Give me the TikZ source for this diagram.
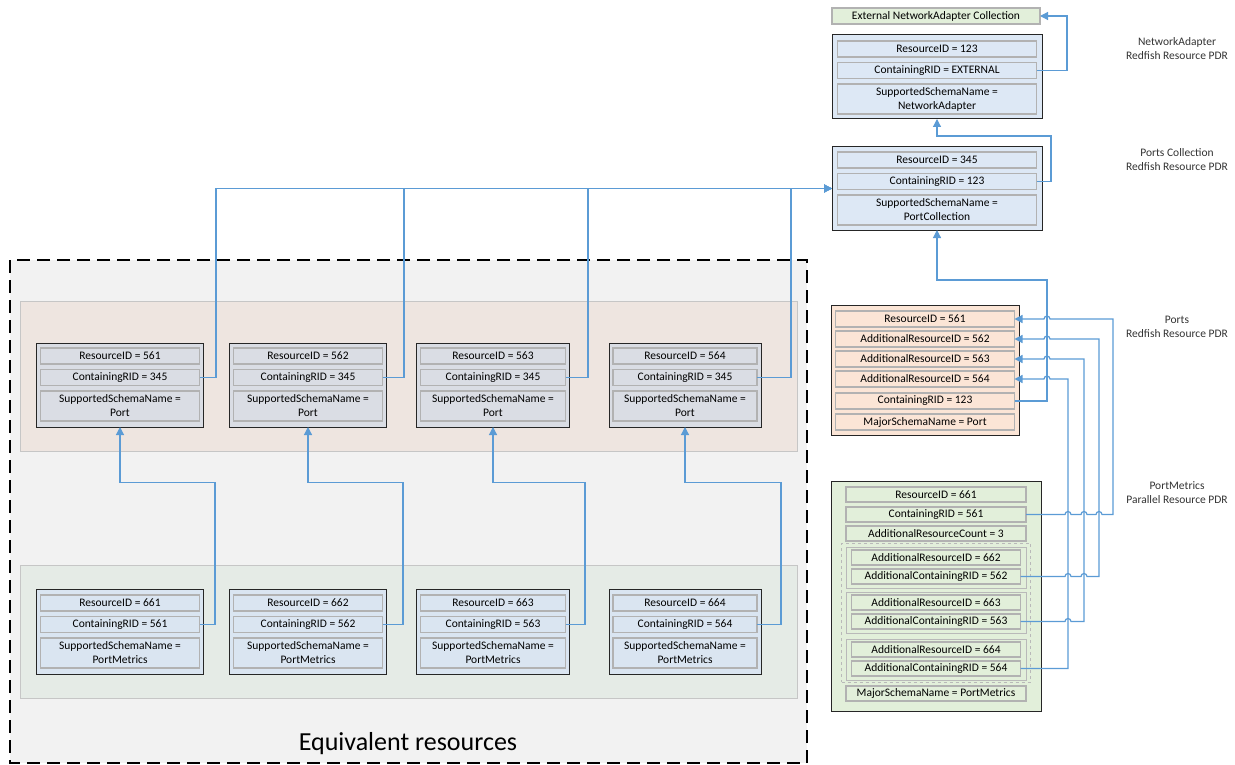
\documentclass[tikz,border=0pt]{standalone}
\usepackage{fontspec}
\setmainfont{Carlito}
\usetikzlibrary{arrows.meta, shapes, positioning, calc}

\definecolor{linkblue}{HTML}{5B9BD5}
\definecolor{portgray}{HTML}{DADDE4}
\definecolor{metricblue}{HTML}{DAE5F1}
\definecolor{pdrblue}{HTML}{DDE8F5}
\definecolor{portorange}{HTML}{FBE5D6}
\definecolor{metricgreen}{HTML}{E2EFDA}
\definecolor{bandpink}{HTML}{EEE5E0}
\definecolor{bandgreen}{HTML}{E5EBE6}
\definecolor{equivgray}{HTML}{F2F2F2}

\begin{document}
\begin{tikzpicture}[x=1pt,y=-1pt,font=\fontsize{11.5}{14}\selectfont,
  record/.style={draw=black!85,line width=1pt,inner sep=0pt,outer sep=0pt},
  field/.style={draw=gray!60,line width=1.2pt,inner sep=0pt,outer sep=0pt,minimum height=16pt,align=center},
  group box/.style={draw=gray!55,line width=1pt,inner sep=0pt,outer sep=0pt,fill=metricgreen},
  link/.style={draw=linkblue,line width=1.2pt,-{Triangle[width=8pt,length=8pt]}},
  pdr label/.style={align=center,text=black!80}]
  \useasboundingbox (0,0) rectangle (1235,765);

  % equivalent resources area
  \draw[fill=equivgray,line width=2.2pt,dash pattern=on 13pt off 7pt] (10,260) rectangle (807,763);
  \draw[fill=bandpink,draw=gray!45] (20,301) rectangle (797,451);
  \draw[fill=bandgreen,draw=gray!45] (20,565) rectangle (797,698);
  \node (equiv) at (408,744) {\fontsize{26}{30}\selectfont Equivalent resources};

  % network adapter
  \node[field,fill=metricgreen,minimum width=208pt] (extcol) at (936,16) {External NetworkAdapter Collection};
  \node[record,fill=pdrblue,minimum width=210pt,minimum height=84pt] (na) at (937,77) {};
  \node[field,fill=pdrblue,minimum width=199pt,below=6pt of na.north] (naid) {ResourceID = 123};
  \node[field,fill=pdrblue,minimum width=199pt,below=5.5pt of naid] (narid) {ContainingRID = EXTERNAL};
  \node[field,fill=pdrblue,minimum width=199pt,minimum height=30pt,below=5.5pt of narid] (naschema) {SupportedSchemaName =\\NetworkAdapter};

  % ports collection
  \node[record,fill=pdrblue,minimum width=210pt,minimum height=83pt] (pcol) at (937,188.5) {};
  \node[field,fill=pdrblue,minimum width=199pt,below=5pt of pcol.north] (pcolid) {ResourceID = 345};
  \node[field,fill=pdrblue,minimum width=199pt,below=5.5pt of pcolid] (pcolrid) {ContainingRID = 123};
  \node[field,fill=pdrblue,minimum width=199pt,minimum height=30pt,below=5.5pt of pcolrid] (pcolschema) {SupportedSchemaName =\\PortCollection};

  % ports
  \node[record,fill=portorange,minimum width=188pt,minimum height=130pt] (ports) at (925,370) {};
  \node[field,fill=portorange,minimum width=179pt,below=6pt of ports.north] (portsid) {ResourceID = 561};
  \node[field,fill=portorange,minimum width=179pt,below=4pt of portsid] (portsadd1) {AdditionalResourceID = 562};
  \node[field,fill=portorange,minimum width=179pt,below=4pt of portsadd1] (portsadd2) {AdditionalResourceID = 563};
  \node[field,fill=portorange,minimum width=179pt,below=4pt of portsadd2] (portsadd3) {AdditionalResourceID = 564};
  \node[field,fill=portorange,minimum width=179pt,below=6pt of portsadd3] (portsrid) {ContainingRID = 123};
  \node[field,fill=portorange,minimum width=179pt,below=5pt of portsrid] (portsmajor) {MajorSchemaName = Port};

  % port metrics
  \node[record,fill=metricgreen,minimum width=210pt,minimum height=230pt] (pm) at (936,596) {};
  \node[field,fill=metricgreen,minimum width=180pt,minimum height=15pt,below=6pt of pm.north] (pmid) {ResourceID = 661};
  \node[field,fill=metricgreen,minimum width=180pt,minimum height=15pt,below=5pt of pmid] (pmrid) {ContainingRID = 561};
  \node[field,fill=metricgreen,minimum width=180pt,minimum height=15pt,below=4pt of pmrid] (pmcount) {AdditionalResourceCount = 3};
  \node[group box,dashed,minimum width=189pt,minimum height=139pt,below=2pt of pmcount] (pmgroup) {};
  \node[group box,minimum width=180pt,minimum height=41pt,below=4pt of pmgroup.north] (pmset1) {};
  \node[group box,minimum width=180pt,minimum height=41pt,below=4pt of pmset1] (pmset2) {};
  \node[group box,minimum width=180pt,minimum height=41pt,below=6pt of pmset2] (pmset3) {};
  \foreach \k/\ra/\rb in {1/662/562, 2/663/563, 3/664/564} {
    \node[field,fill=metricgreen,minimum width=169pt,minimum height=15pt,below=3pt of pmset\k.north] (pmaddid\k) {AdditionalResourceID = \ra};
    \node[field,fill=metricgreen,minimum width=169pt,minimum height=15pt,below=4pt of pmaddid\k] (pmaddrid\k) {AdditionalContainingRID = \rb};
  }
  \node[field,fill=metricgreen,minimum width=180pt,minimum height=15pt,below=4pt of pmgroup] (pmmajor) {MajorSchemaName = PortMetrics};

  \node[pdr label] (nalabel) at (1177,49) {NetworkAdapter\\Redfish Resource PDR};
  \node[pdr label] (pcollabel) at (1177,160) {Ports Collection\\Redfish Resource PDR};
  \node[pdr label] (portslabel) at (1177,327) {Ports\\Redfish Resource PDR};
  \node[pdr label] (pmlabel) at (1177,493) {PortMetrics\\Parallel Resource PDR};

  % equivalent ports and port metrics
  \foreach \i/\x/\w/\ra/\rb/\dt/\db in {1/120/167/561/661/16.5/15.5, 2/308/157/562/662/21.5/20.5, 3/493/153/563/663/22.5/19.5, 4/685/152/564/664/34/24} {
    \node[record,fill=portgray,minimum width=\w pt,minimum height=84pt] (port\i) at (\x,385) {};
    \node[field,fill=portgray,minimum width={(\w-8)*1pt},below=5pt of port\i.north] (portid\i) {ResourceID = \ra};
    \node[field,fill=portgray,minimum width={(\w-8)*1pt},below=5.5pt of portid\i] (portrid\i) {ContainingRID = 345};
    \node[field,fill=portgray,minimum width={(\w-8)*1pt},minimum height=30pt,below=5.5pt of portrid\i] (portschema\i) {SupportedSchemaName =\\Port};
    \node[record,fill=metricblue,minimum width=\w pt,minimum height=85pt] (metric\i) at (\x,631.5) {};
    \node[field,fill=metricblue,minimum width={(\w-8)*1pt},below=6pt of metric\i.north] (metricid\i) {ResourceID = \rb};
    \node[field,fill=metricblue,minimum width={(\w-8)*1pt},below=5.5pt of metricid\i] (metricrid\i) {ContainingRID = \ra};
    \node[field,fill=metricblue,minimum width={(\w-8)*1pt},minimum height=30pt,below=5.5pt of metricrid\i] (metricschema\i) {SupportedSchemaName =\\PortMetrics};
    \draw[link] (portrid\i.east) -- ++(\dt,0) |- (pcol.west);
    \draw[link] (metricrid\i.east) -- ++(\db,0) -- ++(0,-142) -| (port\i.south);
  }

  % containment links
  \coordinate (narail) at (1067,0);
  \coordinate (pcolrail) at (1051,136);
  \coordinate (portsrail) at (1047,280);
  \coordinate (bus1) at (1113,0);
  \coordinate (bus2) at (1099,0);
  \coordinate (bus3) at (1084,0);
  \coordinate (bus4) at (1068,0);
  \draw[link] (narid.east) -- (narail |- narid.east) |- (extcol.east);
  \draw[link] (pcolrid.east) -| (pcolrail) -| (na.south);
  \draw[link] (portsrid.east) -| (portsrail) -| (pcol.south);
  \draw[link] (pmrid.east) -- ($(bus4 |- pmrid.east)+(-3,0)$) arc[start angle=180,end angle=0,radius=3pt]
    -- ($(bus3 |- pmrid.east)+(-3,0)$) arc[start angle=180,end angle=0,radius=3pt]
    -- ($(bus2 |- pmrid.east)+(-3,0)$) arc[start angle=180,end angle=0,radius=3pt]
    -- (bus1 |- pmrid.east) -- (bus1 |- portsid.east)
    -- ($(portsrail |- portsid.east)+(3,0)$) arc[start angle=0,end angle=180,radius=3pt] -- (portsid.east);
  \draw[link] (pmaddrid1.east) -- ($(bus4 |- pmaddrid1.east)+(-3,0)$) arc[start angle=180,end angle=0,radius=3pt]
    -- ($(bus3 |- pmaddrid1.east)+(-3,0)$) arc[start angle=180,end angle=0,radius=3pt]
    -- (bus2 |- pmaddrid1.east) -- (bus2 |- portsadd1.east)
    -- ($(portsrail |- portsadd1.east)+(3,0)$) arc[start angle=0,end angle=180,radius=3pt] -- (portsadd1.east);
  \draw[link] (pmaddrid2.east) -- ($(bus4 |- pmaddrid2.east)+(-3,0)$) arc[start angle=180,end angle=0,radius=3pt]
    -- (bus3 |- pmaddrid2.east) -- (bus3 |- portsadd2.east)
    -- ($(portsrail |- portsadd2.east)+(3,0)$) arc[start angle=0,end angle=180,radius=3pt] -- (portsadd2.east);
  \draw[link] (pmaddrid3.east) -- (bus4 |- pmaddrid3.east) -- (bus4 |- portsadd3.east)
    -- ($(portsrail |- portsadd3.east)+(3,0)$) arc[start angle=0,end angle=180,radius=3pt] -- (portsadd3.east);
\end{tikzpicture}
\end{document}
